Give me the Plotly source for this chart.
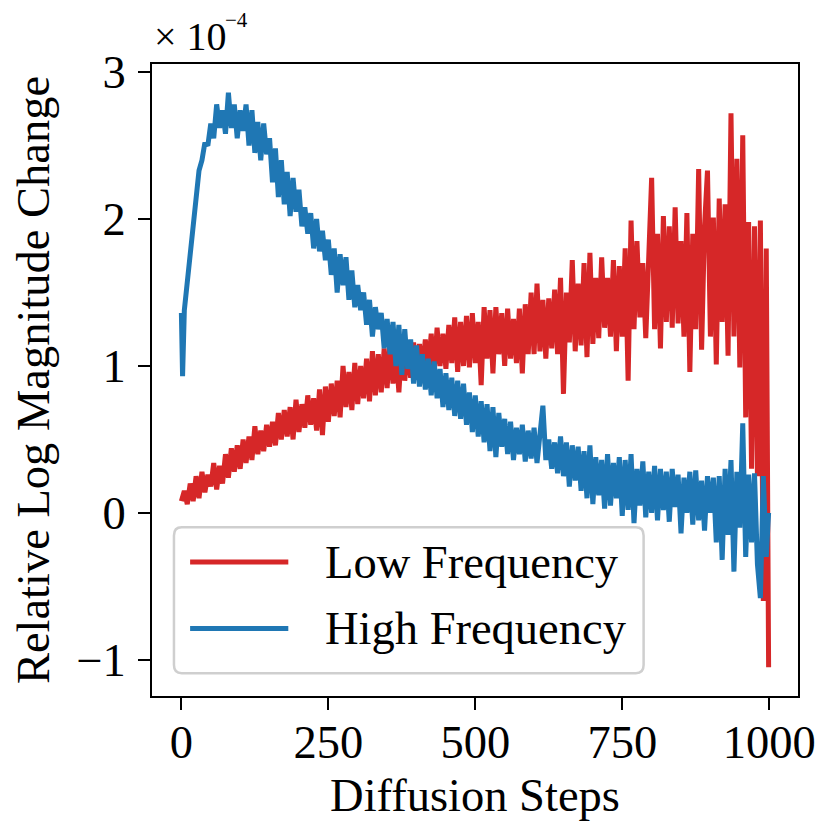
import plotly.graph_objects as go

# diffusion step index of each sample
steps = [0, 2] + list(range(5, 1000, 5)) + [999]

# relative log magnitude change, in units of 1e-4
low_freq = [
    0.08, 0.12, 0.15, 0.06, 0.20, 0.08, 0.25, 0.10, 0.28, 0.14, 0.26,
    0.18, 0.34, 0.16, 0.32, 0.20, 0.40, 0.24, 0.44, 0.28, 0.46,
    0.30, 0.50, 0.34, 0.52, 0.36, 0.59, 0.40, 0.56, 0.42, 0.60,
    0.45, 0.62, 0.46, 0.68, 0.50, 0.70, 0.52, 0.72, 0.50, 0.77,
    0.55, 0.74, 0.58, 0.80, 0.60, 0.78, 0.56, 0.84, 0.53, 0.86,
    0.62, 0.88, 0.66, 0.90, 0.65, 1.00, 0.72, 0.96, 0.70, 1.02,
    0.74, 1.00, 0.78, 1.05, 0.76, 1.10, 0.80, 1.08, 0.82, 1.12,
    0.85, 1.16, 0.88, 1.10, 0.82, 1.14, 0.90, 1.12, 0.92, 1.16,
    0.95, 1.15, 0.96, 1.18, 0.98, 1.22, 0.95, 1.26, 1.00, 1.22,
    0.98, 1.28, 1.02, 1.33, 0.96, 1.30, 1.00, 1.34, 0.99, 1.36,
    1.02, 1.30, 0.87, 1.40, 1.05, 1.38, 0.95, 1.40, 1.08, 1.36,
    1.00, 1.39, 1.05, 1.32, 1.02, 1.39, 0.95, 1.42, 1.08, 1.50,
    1.08, 1.56, 1.10, 1.45, 1.05, 1.46, 1.12, 1.52, 1.08, 1.60,
    0.81, 1.50, 1.16, 1.72, 1.10, 1.56, 1.14, 1.70, 1.06, 1.77,
    1.15, 1.60, 1.19, 1.74, 1.26, 1.60, 1.20, 1.72, 1.10, 1.68,
    1.20, 1.80, 0.90, 1.99, 1.25, 1.85, 1.33, 1.70, 1.19, 1.80,
    2.28, 1.25, 1.90, 1.12, 2.02, 1.30, 1.95, 1.26, 2.08, 1.29,
    1.85, 1.20, 2.04, 0.96, 1.90, 1.25, 2.34, 1.11, 1.95, 2.33,
    1.20, 2.01, 1.01, 2.14, 1.30, 2.10, 1.07, 2.72, 1.20, 2.41,
    0.99, 2.57, 0.65, 1.98, 0.30, 1.95, 0.25, 1.99, -0.60, 1.80,
    -1.05,
]

high_freq = [
    1.36, 0.93, 1.38, 1.58, 1.80, 1.95, 2.15, 2.33, 2.40, 2.52, 2.50,
    2.65, 2.55, 2.78, 2.62, 2.74, 2.58, 2.86, 2.62, 2.78, 2.55,
    2.74, 2.60, 2.78, 2.50, 2.74, 2.45, 2.66, 2.40, 2.65, 2.44,
    2.55, 2.25, 2.48, 2.15, 2.40, 2.10, 2.32, 2.02, 2.28, 2.05,
    2.20, 1.95, 2.08, 1.90, 2.04, 1.80, 2.00, 1.78, 1.92, 1.72,
    1.86, 1.62, 1.80, 1.50, 1.76, 1.55, 1.74, 1.45, 1.65, 1.40,
    1.55, 1.38, 1.50, 1.28, 1.45, 1.20, 1.40, 1.25, 1.36, 1.12,
    1.32, 1.08, 1.30, 1.00, 1.28, 0.94, 1.25, 0.98, 1.18, 0.88,
    1.14, 0.86, 1.08, 0.84, 1.05, 0.80, 1.03, 0.78, 0.98, 0.72,
    0.95, 0.70, 0.92, 0.66, 0.90, 0.64, 0.88, 0.60, 0.82, 0.55,
    0.80, 0.52, 0.76, 0.48, 0.74, 0.42, 0.72, 0.38, 0.68, 0.45,
    0.64, 0.40, 0.62, 0.36, 0.58, 0.40, 0.60, 0.35, 0.56, 0.37,
    0.58, 0.34, 0.52, 0.73, 0.36, 0.50, 0.30, 0.48, 0.27, 0.52,
    0.25, 0.48, 0.18, 0.46, 0.22, 0.45, 0.15, 0.42, 0.10, 0.46,
    0.06, 0.38, 0.12, 0.36, 0.03, 0.40, 0.05, 0.34, 0.10, 0.38,
    -0.02, 0.36, 0.02, 0.40, -0.07, 0.30, 0.05, 0.35, -0.03, 0.28,
    0.00, 0.32, -0.05, 0.30, 0.02, 0.28, -0.06, 0.30, 0.04, 0.26,
    -0.14, 0.24, 0.00, 0.28, -0.08, 0.29, -0.05, 0.22, -0.12, 0.25,
    0.00, 0.24, -0.20, 0.25, -0.32, 0.30, -0.15, 0.36, -0.40, 0.28,
    -0.10, 0.61, -0.30, 0.26, -0.20, 0.27, -0.35, -0.58, 0.25, -0.30,
    0.00,
]

series_names = ["Low Frequency", "High Frequency"]
series_colors = ["#d62728", "#1f77b4"]

x_ticks = [0, 250, 500, 750, 1000]
y_ticks = [-1, 0, 1, 2, 3]
y_ticktext = ["\u22121", "0", "1", "2", "3"]

FONT = "Liberation Serif, Times New Roman, serif"
FS = 46.5
LW = 5

fig = go.Figure()
for name, vals, color in zip(series_names, [low_freq, high_freq], series_colors):
    fig.add_trace(go.Scatter(x=steps, y=vals, mode="lines", name=name,
                             line=dict(color=color, width=LW), showlegend=False))

axis_common = dict(showline=True, linecolor="black", linewidth=2, mirror=True,
                   showgrid=False, zeroline=False, ticks="outside", ticklen=12,
                   tickwidth=2, tickcolor="black",
                   tickfont=dict(family=FONT, size=FS, color="black"))


def rounded_rect(x0, y0, x1, y1, rx, ry):
    # path for a rounded box in paper coords (y0 bottom, y1 top)
    return (f"M{x0 + rx},{y0} L{x1 - rx},{y0} Q{x1},{y0} {x1},{y0 + ry} "
            f"L{x1},{y1 - ry} Q{x1},{y1} {x1 - rx},{y1} "
            f"L{x0 + rx},{y1} Q{x0},{y1} {x0},{y1 - ry} "
            f"L{x0},{y0 + ry} Q{x0},{y0} {x0 + rx},{y0} Z")


# legend drawn by hand so the sample lines and spacing match matplotlib's
shapes = [dict(type="path", xref="paper", yref="paper",
               path=rounded_rect(0.034, 0.036, 0.761, 0.267, 0.012, 0.013),
               fillcolor="white", line=dict(color="#cfcfcf", width=2.5), layer="above")]
annotations = []
legend_rows = [0.212, 0.107]
for name, color, ly in zip(series_names, series_colors, legend_rows):
    shapes.append(dict(type="line", xref="paper", yref="paper", x0=0.059, x1=0.211,
                       y0=ly, y1=ly, line=dict(color=color, width=LW), layer="above"))
    annotations.append(dict(xref="paper", yref="paper", x=0.265, y=ly, xanchor="left",
                            yanchor="middle", showarrow=False, text=name,
                            font=dict(family=FONT, size=FS, color="black")))

# scale factor label, like matplotlib's offset text
annotations.append(dict(xref="paper", yref="paper", x=0.0, y=1, xanchor="left", yanchor="bottom",
                        yshift=3, showarrow=False, text="\u00d7 10",
                        font=dict(family=FONT, size=40, color="black")))
annotations.append(dict(xref="paper", yref="paper", x=0.110, y=1, xanchor="left", yanchor="bottom",
                        yshift=30, showarrow=False, text="\u22124",
                        font=dict(family=FONT, size=21, color="black")))

fig.update_layout(
    width=831, height=838,
    margin=dict(l=142, r=41, t=56, b=150),
    plot_bgcolor="white", paper_bgcolor="white",
    font=dict(family=FONT, color="black"),
    xaxis=dict(range=[-50, 1049], tickvals=x_ticks, ticklabelstandoff=-8,
               title=dict(text="Diffusion Steps", font=dict(family=FONT, size=FS), standoff=12),
               **axis_common),
    yaxis=dict(range=[-1.246, 3.055], tickvals=y_ticks, ticktext=y_ticktext, ticklabelstandoff=3,
               title=dict(text="Relative Log Magnitude Change", font=dict(family=FONT, size=FS),
                          standoff=24),
               **axis_common),
    shapes=shapes,
    annotations=annotations,
)

fig.write_html("out.html")
